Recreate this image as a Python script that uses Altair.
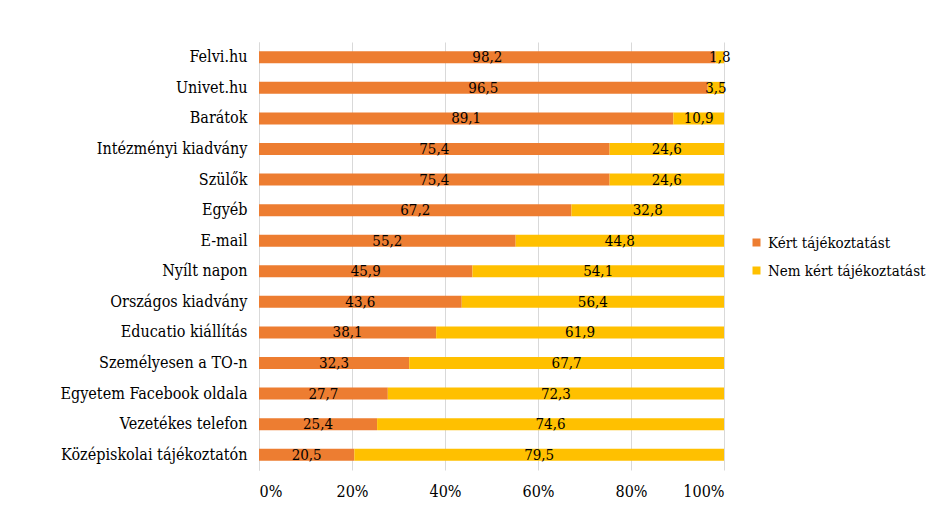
import altair as alt
import pandas as pd

categories = ["Felvi.hu", "Univet.hu", "Barátok", "Intézményi kiadvány", "Szülők", "Egyéb",
              "E-mail", "Nyílt napon", "Országos kiadvány", "Educatio kiállítás",
              "Személyesen a TO-n", "Egyetem Facebook oldala", "Vezetékes telefon",
              "Középiskolai tájékoztatón"]
kert = [98.2, 96.5, 89.1, 75.4, 75.4, 67.2, 55.2, 45.9, 43.6, 38.1, 32.3, 27.7, 25.4, 20.5]
nem_kert = [1.8, 3.5, 10.9, 24.6, 24.6, 32.8, 44.8, 54.1, 56.4, 61.9, 67.7, 72.3, 74.6, 79.5]
series = ["Kért tájékoztatást", "Nem kért tájékoztatást"]
colors = ["#ED7D31", "#FFC000"]
x_ticks = [0, 20, 40, 60, 80, 100]

rows = []
for i, c in enumerate(categories):
    rows.append({"cat": c, "series": series[0], "value": kert[i], "ord": 0})
    rows.append({"cat": c, "series": series[1], "value": nem_kert[i], "ord": 1})
df = pd.DataFrame(rows)

FONT = "DejaVu Serif Condensed"

base = alt.Chart(df).transform_stack(
    stack="value", as_=["x0", "x1"], groupby=["cat"], sort=[alt.SortField("ord")]
).transform_calculate(
    mid="(datum.x0 + datum.x1) / 2",
    label="replace(format(datum.value, '.1f'), '.', ',')",
)

y_enc = alt.Y("cat:N", sort=categories,
              axis=alt.Axis(title=None, labelFont=FONT, labelFontSize=16, labelColor="black",
                            ticks=False, domainColor="#D9D9D9", labelPadding=12, grid=False,
                            labelLimit=300))

bars = base.mark_bar(size=12).encode(
    y=y_enc,
    x=alt.X("x0:Q", scale=alt.Scale(domain=[0, 100]),
            axis=alt.Axis(title=None, ticks=False, domain=False, grid=True, gridColor="#D9D9D9",
                          values=x_ticks, labelExpr="datum.value + '%'", labelPadding=13,
                          labelFont=FONT, labelFontSize=16, labelColor="black")),
    x2="x1:Q",
    color=alt.Color("series:N", scale=alt.Scale(domain=series, range=colors),
                    legend=alt.Legend(title=None, orient="none", legendX=490, legendY=193,
                                      symbolType="square", symbolSize=64, symbolStrokeWidth=0,
                                      labelFont=FONT, labelFontSize=15, labelColor="black",
                                      rowPadding=12, labelOffset=4, labelLimit=300)),
    order=alt.Order("ord:Q"),
)

text = base.mark_text(font=FONT, fontSize=15, color="black", baseline="middle").encode(
    y=alt.Y("cat:N", sort=categories),
    x=alt.X("mid:Q"),
    text="label:N",
)

chart = alt.layer(bars, text).properties(
    width=465, height=428,
    autosize=alt.AutoSizeParams(type="none"),
    padding={"left": 251, "top": 34, "right": 206, "bottom": 45},
    background="white",
).configure_view(stroke=None)

chart.save("out.html", embed_options={"renderer": "svg", "actions": False})
